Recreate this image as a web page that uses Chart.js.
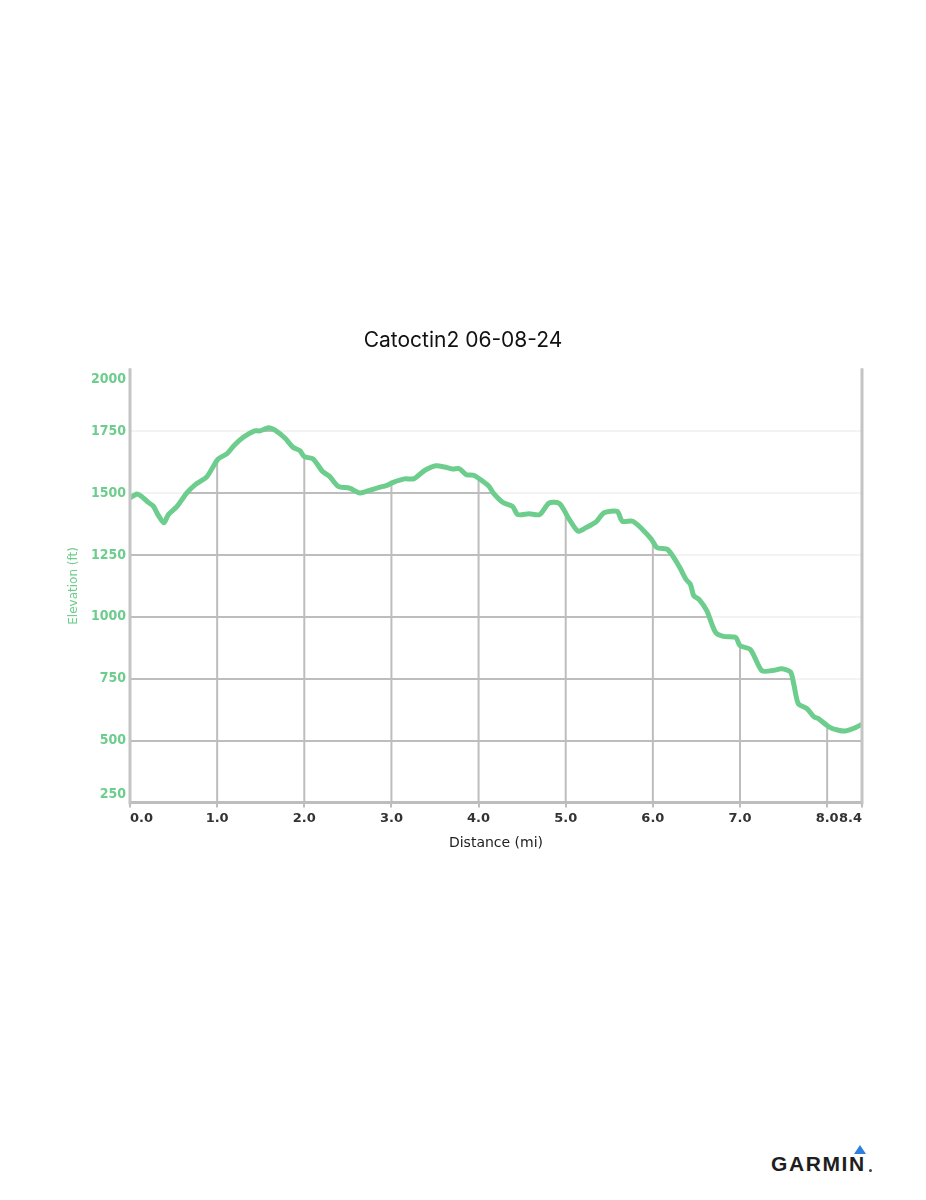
<!DOCTYPE html>
<html>
<head>
<meta charset="utf-8">
<script src="https://cdn.jsdelivr.net/npm/chart.js@4.4.1/dist/chart.umd.min.js"></script>
<style>
  body { margin: 0; background: #fff; width: 926px; height: 1200px; position: relative; overflow: hidden; }
  #wrap { position: absolute; left: 0; top: 300px; width: 926px; height: 600px; }
  #logo { position: absolute; left: 771px; top: 1153px; font: bold 21px "Liberation Sans", Arial, sans-serif; letter-spacing: 1.6px; color: #1e1e1e; line-height: 21px; }
  #tri { position: absolute; left: 854px; top: 1145px; width: 0; height: 0; border-left: 6px solid transparent; border-right: 6px solid transparent; border-bottom: 9px solid #2f7fdc; }
  #dot { position: absolute; left: 869px; top: 1169px; width: 3px; height: 3px; border-radius: 50%; background: #444; }
</style>
</head>
<body>
<div id="wrap"><canvas id="chart"></canvas></div>
<div id="logo">GARMIN</div>
<div id="tri"></div>
<div id="dot"></div>
<script>
const titleText = "Catoctin2 06-08-24";
const green = "#6ccd8c";
const gridGray = "#bdbdbd";

// distance (mi) and elevation (ft)
const distances = [
  0.00, 0.08, 0.13, 0.21, 0.27, 0.32, 0.39, 0.44, 0.54, 0.65, 0.75, 0.88,
  1.01, 1.11, 1.20, 1.30, 1.43, 1.49, 1.59, 1.66, 1.78, 1.87, 1.95, 2.00,
  2.10, 2.21, 2.29, 2.39, 2.52, 2.64, 2.75, 2.86, 2.94, 3.02, 3.15, 3.26,
  3.38, 3.51, 3.61, 3.70, 3.78, 3.86, 3.95, 4.05, 4.12, 4.17, 4.28, 4.39,
  4.45, 4.58, 4.70, 4.81, 4.93, 5.03, 5.14, 5.23, 5.35, 5.44, 5.59, 5.65,
  5.77, 5.88, 5.98, 6.05, 6.17, 6.30, 6.38, 6.43, 6.47, 6.53, 6.62, 6.72,
  6.81, 6.95, 7.00, 7.12, 7.25, 7.37, 7.48, 7.58, 7.62, 7.67, 7.77, 7.85,
  7.90, 8.02, 8.13, 8.21, 8.30, 8.39, 8.40
];
const elevations = [
  1480, 1496, 1487, 1462, 1446, 1413, 1380, 1413, 1446, 1500, 1534, 1565,
  1637, 1658, 1694, 1725, 1751, 1751, 1764, 1755, 1721, 1685, 1671, 1647,
  1638, 1587, 1567, 1527, 1520, 1500, 1511, 1523, 1530, 1543, 1557, 1558,
  1591, 1610, 1605, 1597, 1598, 1574, 1571, 1547, 1527, 1500, 1462, 1446,
  1413, 1416, 1413, 1460, 1457, 1400, 1346, 1360, 1384, 1420, 1426, 1386,
  1386, 1353, 1315, 1279, 1272, 1205, 1152, 1132, 1085, 1071, 1024, 937,
  921, 917, 884, 868, 783, 783, 790, 777, 723, 649, 629, 596,
  589, 556, 542, 539, 549, 565, 568
];

const xTicks = [0, 1, 2, 3, 4, 5, 6, 7, 8, 8.4];
const yTicks = [250, 500, 750, 1000, 1250, 1500, 1750, 2000];

const points = distances.map((d, i) => ({ x: d, y: elevations[i] }));

const framePlugin = {
  id: "frame",
  // vertical grid lines only run from the profile down to the axis
  beforeDatasetsDraw(chart) {
    const { ctx, chartArea, scales } = chart;
    const pts = chart.getDatasetMeta(0).data;
    ctx.save();
    ctx.strokeStyle = gridGray;
    ctx.lineWidth = 2;
    xTicks.forEach(v => {
      if (v === 0 || v === 8.4) return;
      const px = scales.x.getPixelForValue(v);
      let py = chartArea.top;
      for (let i = 1; i < pts.length; i++) {
        if (pts[i].x >= px) {
          const a = pts[i - 1], b = pts[i];
          py = a.y + (b.y - a.y) * (px - a.x) / (b.x - a.x);
          break;
        }
      }
      ctx.beginPath();
      ctx.moveTo(px, py);
      ctx.lineTo(px, chartArea.bottom);
      ctx.stroke();
    });
    ctx.restore();
  },
  afterDatasetsDraw(chart) {
    const { ctx, chartArea } = chart;
    ctx.save();
    ctx.strokeStyle = "#c4c4c4";
    ctx.lineWidth = 3;
    ctx.beginPath();
    ctx.moveTo(chartArea.left, chartArea.top - 1);
    ctx.lineTo(chartArea.left, chartArea.bottom + 2);
    ctx.moveTo(chartArea.right, chartArea.top - 1);
    ctx.lineTo(chartArea.right, chartArea.bottom + 2);
    ctx.stroke();
    ctx.restore();
  },
  // y labels are pulled inside the plot at the top and bottom
  afterDraw(chart) {
    const { ctx, chartArea, scales } = chart;
    ctx.save();
    ctx.font = 'bold 14px "DejaVu Sans Condensed", "DejaVu Sans"';
    ctx.fillStyle = green;
    ctx.textAlign = "right";
    ctx.textBaseline = "middle";
    yTicks.forEach(v => {
      let py = scales.y.getPixelForValue(v);
      py = Math.min(Math.max(py, chartArea.top + 10), chartArea.bottom - 8);
      ctx.fillText(String(v), chartArea.left - 4, py);
    });
    ctx.restore();
  }
};

new Chart(document.getElementById("chart"), {
  type: "line",
  data: {
    datasets: [{
      data: points,
      borderColor: green,
      borderWidth: 5,
      pointRadius: 0,
      tension: 0.25,
      fill: "end",
      backgroundColor: "rgba(255,255,255,0.82)"
    }]
  },
  options: {
    responsive: true,
    maintainAspectRatio: false,
    animation: false,
    layout: { padding: { left: 64, right: 64, top: 0, bottom: 44 } },
    plugins: {
      legend: { display: false },
      tooltip: { enabled: false },
      title: {
        display: true,
        text: titleText,
        color: "#111",
        font: { family: "Inter", size: 21, weight: "normal" },
        padding: { top: 28, bottom: 16 }
      }
    },
    scales: {
      x: {
        type: "linear",
        min: 0,
        max: 8.4,
        afterBuildTicks: scale => { scale.ticks = xTicks.map(v => ({ value: v })); },
        ticks: {
          align: "inner",
          color: "#333",
          padding: 3,
          maxRotation: 0,
          autoSkip: false,
          font: { family: "DejaVu Sans", size: 13, weight: "bold" },
          callback: v => Number(v).toFixed(1)
        },
        grid: { color: "rgba(0,0,0,0)", tickColor: gridGray, lineWidth: 2, tickLength: 5 },
        border: { color: gridGray, width: 3 },
        title: {
          display: true,
          text: "Distance (mi)",
          color: "#222",
          font: { family: "DejaVu Sans", size: 14 },
          padding: { top: 6, bottom: 4 }
        }
      },
      y: {
        min: 250,
        max: 2000,
        afterBuildTicks: scale => { scale.ticks = yTicks.map(v => ({ value: v })); },
        afterFit: scale => { scale.width = 66; },
        ticks: { display: false },
        grid: {
          color: c => (c.tick && c.tick.value === 2000 ? "rgba(0,0,0,0)" : gridGray),
          lineWidth: 2,
          drawTicks: false
        },
        border: { display: false },
        title: {
          display: true,
          text: "Elevation (ft)",
          color: green,
          font: { family: "DejaVu Sans", size: 12 },
          padding: { top: 3, bottom: 4 }
        }
      }
    }
  },
  plugins: [framePlugin]
});
</script>
</body>
</html>
